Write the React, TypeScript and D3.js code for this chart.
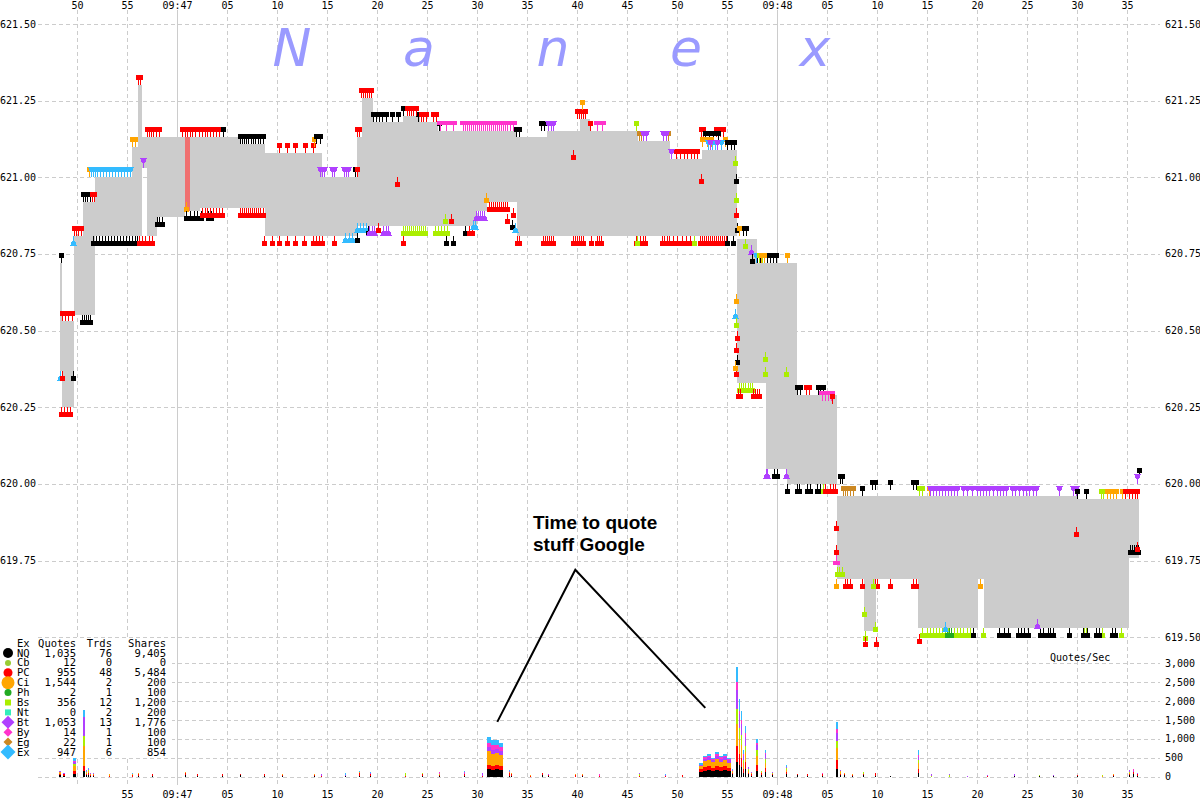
import React from 'react';
import * as d3 from 'd3';

const W = 1200;
const H = 800;

// ---------- axes ----------
const TIME_TICKS = [50, 55, 60, 65, 70, 75, 80, 85, 90, 95, 100, 105, 110, 115, 120, 125, 130, 135, 140, 145, 150, 155];
const PRICE_TICKS = [619.5, 619.75, 620.0, 620.25, 620.5, 620.75, 621.0, 621.25, 621.5];
const RATE_TICKS = [0, 500, 1000, 1500, 2000, 2500, 3000];

// ---------- NBBO band (seconds after 09:46:00) ----------
const NBBO_T = [48.3, 48.5, 49.7, 50.6, 51.8, 55.5, 56.1, 56.5, 57.0, 58.0, 60.8, 61.3, 62.3, 66.3, 68.8, 74.5, 78.0, 78.5, 79.6, 82.6, 84.3, 86.1, 90.0, 91.0, 94.0, 97.0, 100.3, 101.3, 106.1, 109.3, 112.5, 116.0, 118.0, 118.9, 121.0, 122.0, 126.0, 128.7, 129.9, 134.1, 140.1, 140.7, 150.0, 155.2];
const NBBO_ASK = [620.72, 620.53, 620.81, 620.92, 621.0, 621.1, 621.3, 621.13, 621.13, 621.13, 621.13, 621.13, 621.13, 621.11, 621.08, 621.0, 621.13, 621.26, 621.18, 621.2, 621.18, 621.15, 621.15, 621.15, 621.13, 621.15, 621.19, 621.15, 621.12, 621.06, 621.09, 620.8, 620.72, 620.72, 620.72, 620.29, 619.96, 619.96, 619.96, 619.96, 619.96, 619.96, 619.95, 619.95];
const NBBO_BID = [620.37, 620.25, 620.55, 620.55, 620.81, 620.81, 620.81, 621.03, 620.81, 620.87, 620.89, 620.89, 620.9, 620.9, 620.81, 620.81, 620.84, 620.84, 620.84, 620.84, 620.84, 620.84, 620.89, 620.92, 620.81, 620.81, 620.81, 620.81, 620.81, 620.81, 620.81, 620.33, 620.33, 620.05, 620.0, 620.0, 619.69, 619.52, 619.69, 619.53, 619.69, 619.53, 619.53, 619.76];
const NBBO_END = 156.2;
const LOCKED = [[60.8, 61.3, 621.13, 620.89]];

// ---------- legend table ----------
const EXCHANGES = ['NQ', 'Cb', 'PC', 'Ci', 'Ph', 'Bs', 'Nt', 'Bt', 'By', 'Eg', 'Ex'];
const QUOTES = ['1,035', '12', '955', '1,544', '2', '356', '0', '1,053', '14', '22', '947'];
const TRADES = ['76', '0', '48', '2', '1', '12', '2', '13', '1', '1', '6'];
const SHARES = ['9,405', '0', '5,484', '200', '100', '1,200', '200', '1,776', '100', '100', '854'];

const EX_COLORS: Record<string, string> = {
  NQ: '#000000', Cb: '#99cc33', PC: '#ff0000', Ci: '#ffa500', Ph: '#22aa22', Bs: '#aaee00',
  Nt: '#33eebb', Bt: '#b040ff', By: '#ff33cc', Eg: '#cc8822', Ex: '#33bbff',
};

// ---------- quotes (exchange, side, price, times) ----------
type Q = [string, string, number, number[]];
const QUOTE_MARKS: Q[] = [
  ['NQ', 'a', 620.72, [48.4]],
  ['Ex', 'b', 620.37, [48.3]],
  ['PC', 'b', 620.37, [48.5]],
  ['PC', 'b', 620.25, [48.4, 48.7, 49.0, 49.3]],
  ['PC', 'a', 620.53, [48.5, 48.8, 49.1, 49.5]],
  ['NQ', 'b', 620.37, [49.6]],
  ['NQ', 'b', 620.55, [50.5, 50.7, 50.9, 51.1, 51.3]],
  ['Ex', 'b', 620.81, [49.6]],
  ['PC', 'a', 620.81, [49.7, 49.9, 50.1, 50.4]],
  ['NQ', 'a', 620.92, [50.6, 50.8, 51.0, 51.3]],
  ['PC', 'a', 620.92, [51.5, 51.7]],
  ['Ci', 'a', 621.0, [51.2]],
  ['Ex', 'a', 621.0, [51.4, 51.6, 51.8, 52.0, 52.3, 52.6, 52.9, 53.2, 53.5, 53.8, 54.1, 54.4, 54.7, 55.0, 55.3]],
  ['NQ', 'b', 620.81, [51.6, 51.9, 52.2, 52.5, 52.8, 53.1, 53.4, 53.7, 54.0, 54.3, 54.6, 54.9, 55.2, 55.5, 55.8, 56.0]],
  ['Ci', 'a', 621.1, [55.5, 55.8]],
  ['PC', 'a', 621.3, [56.1, 56.3]],
  ['Bt', 'a', 621.03, [56.6]],
  ['PC', 'a', 621.13, [57.0, 57.2, 57.4, 57.6, 57.9, 58.2, 60.5, 60.8, 61.0, 61.3, 61.5, 61.8, 62.2, 62.5, 62.8, 63.0, 63.3, 63.6, 63.9, 64.2]],
  ['NQ', 'a', 621.13, [64.6]],
  ['PC', 'b', 620.81, [56.2, 56.5, 56.8, 57.2, 57.5]],
  ['NQ', 'b', 620.87, [58.0, 58.2, 58.5]],
  ['Ci', 'b', 620.92, [60.9]],
  ['NQ', 'b', 620.89, [60.9, 61.3, 61.7, 62.0, 62.4, 63.1, 63.4]],
  ['PC', 'b', 620.9, [62.5, 62.8, 63.0, 63.3, 63.6, 63.9, 64.2, 64.5]],
  ['NQ', 'a', 621.11, [66.3, 66.5, 66.7, 66.9, 67.1, 67.4, 67.6, 67.8, 68.1, 68.3, 68.6]],
  ['PC', 'b', 620.9, [66.3, 66.5, 66.7, 66.9, 67.1, 67.3, 67.5, 67.7, 67.9, 68.1, 68.3, 68.6]],
  ['PC', 'b', 620.81, [68.7, 69.5, 70.2, 71.0, 71.8, 72.7, 73.6, 73.9, 74.2, 74.5, 75.7]],
  ['PC', 'a', 621.08, [70.2, 71.0, 71.8, 72.8, 73.6]],
  ['Ci', 'a', 621.1, [73.7]],
  ['NQ', 'a', 621.11, [73.9, 74.3]],
  ['Bt', 'a', 621.0, [74.3, 74.5, 74.7, 75.5, 75.7, 76.7, 76.9, 77.1]],
  ['NQ', 'a', 621.0, [77.8]],
  ['PC', 'a', 621.0, [78.0]],
  ['Ex', 'b', 620.82, [76.8, 77.2, 77.5]],
  ['NQ', 'b', 620.82, [78.0]],
  ['PC', 'a', 621.13, [78.0, 78.2]],
  ['PC', 'a', 621.26, [78.4, 78.6, 78.8, 79.0, 79.2, 79.4]],
  ['NQ', 'a', 621.18, [79.6, 79.9, 80.2, 80.5, 80.9, 81.5, 82.1, 84.1]],
  ['NQ', 'a', 621.2, [82.6]],
  ['PC', 'a', 621.2, [83.0, 83.2, 83.4, 83.6, 83.9]],
  ['PC', 'a', 621.18, [84.4, 84.6, 84.9, 85.6, 85.9]],
  ['NQ', 'a', 621.15, [86.2]],
  ['By', 'a', 621.15, [86.3, 86.9, 87.6, 88.6, 88.8, 89.0, 89.2, 89.4, 89.6, 89.8, 90.0, 90.2, 90.4, 90.6, 90.8, 91.0, 91.2, 91.4, 91.6, 91.8, 92.0, 92.2, 92.4, 92.6, 92.8, 93.0, 93.3, 93.6]],
  ['NQ', 'a', 621.13, [93.9, 94.2]],
  ['NQ', 'a', 621.15, [96.4, 96.7]],
  ['Bt', 'a', 621.15, [97.1, 97.4, 97.6]],
  ['PC', 'a', 621.19, [100.0, 100.2, 100.4, 100.6, 100.8]],
  ['Ci', 'a', 621.22, [100.5]],
  ['PC', 'a', 621.15, [101.3]],
  ['By', 'a', 621.15, [102.0, 102.5]],
  ['Bs', 'a', 621.15, [105.9]],
  ['Eg', 'a', 621.12, [106.2, 106.4, 109.1]],
  ['Bt', 'a', 621.12, [106.6, 106.9, 108.6, 108.9]],
  ['PC', 'a', 621.06, [109.9, 110.3, 110.7, 111.0, 111.4, 111.7, 112.0]],
  ['Bt', 'a', 621.06, [109.4]],
  ['PC', 'a', 621.13, [112.4, 112.6, 113.9, 114.3, 114.6]],
  ['NQ', 'a', 621.12, [112.8, 113.2, 113.6, 114.1]],
  ['Ci', 'a', 621.1, [112.5, 113.0, 113.4, 114.8]],
  ['Ex', 'a', 621.09, [113.1, 113.5, 113.8, 114.4]],
  ['Bt', 'a', 621.09, [113.3, 114.0]],
  ['NQ', 'a', 621.09, [115.0, 115.4, 115.7]],
  ['PC', 'b', 621.0, [82.0]],
  ['PC', 'b', 621.09, [99.6]],
  ['PC', 'b', 621.01, [112.4]],
  ['Ex', 'b', 620.85, [78.0, 78.3, 78.6, 78.9]],
  ['NQ', 'b', 620.84, [79.1, 88.8]],
  ['Bt', 'b', 620.84, [79.2, 79.5, 79.7, 80.6, 80.9, 81.1]],
  ['PC', 'b', 620.85, [80.1]],
  ['PC', 'b', 620.81, [82.6]],
  ['Bs', 'b', 620.84, [82.6, 82.8, 83.0, 83.2, 83.4, 83.6, 83.8, 84.0, 84.2, 84.4, 84.6, 84.8, 85.8, 86.1, 86.4, 86.7, 87.0]],
  ['Bs', 'b', 620.88, [86.8]],
  ['NQ', 'b', 620.81, [86.9, 87.6]],
  ['PC', 'b', 620.88, [87.4]],
  ['PC', 'b', 620.84, [89.2, 89.5]],
  ['Ex', 'b', 620.86, [89.6, 89.8]],
  ['Bt', 'b', 620.89, [89.9, 90.1, 90.3, 90.5, 90.7]],
  ['Ci', 'b', 620.95, [90.9]],
  ['PC', 'b', 620.92, [91.2, 91.4, 91.6, 91.8, 92.0, 92.2, 92.4, 92.6, 92.8, 93.0]],
  ['PC', 'b', 620.88, [93.0]],
  ['PC', 'b', 620.9, [93.6]],
  ['NQ', 'b', 620.86, [93.5]],
  ['Ex', 'b', 620.85, [93.8]],
  ['PC', 'b', 620.81, [94.0, 94.2, 96.6, 96.8, 97.0, 97.2, 97.4, 97.6, 99.6, 99.8, 100.0, 100.2, 100.4, 100.6, 101.4, 102.0, 102.2, 102.4, 105.9, 106.3, 106.6, 106.8, 108.5, 108.7, 109.0, 109.2, 109.6, 110.0, 110.5, 110.9, 111.3, 112.3, 112.5, 112.7, 112.9, 113.1, 113.3, 113.5, 113.7, 113.9, 114.1, 114.3, 114.5, 114.7, 114.9]],
  ['Bs', 'b', 620.81, [106.0, 111.7]],
  ['NQ', 'b', 620.81, [115.0, 115.6]],
  // the drop
  ['Bs', 'b', 621.07, [115.8]],
  ['NQ', 'b', 621.01, [115.9]],
  ['Bs', 'b', 620.95, [115.9]],
  ['PC', 'b', 620.9, [115.9]],
  ['NQ', 'b', 620.85, [116.0]],
  ['Ci', 'b', 620.62, [115.9]],
  ['Ex', 'b', 620.57, [115.8]],
  ['Bs', 'b', 620.54, [115.9]],
  ['PC', 'b', 620.5, [116.0]],
  ['PC', 'b', 620.46, [115.9]],
  ['NQ', 'b', 620.42, [116.0]],
  ['PC', 'b', 620.38, [115.9]],
  ['Ci', 'b', 620.4, [115.8]],
  ['NQ', 'a', 620.81, [116.6, 116.9]],
  ['Ci', 'a', 620.81, [116.2]],
  ['Bs', 'b', 620.8, [116.8]],
  ['Bt', 'b', 620.78, [117.4]],
  ['NQ', 'b', 620.75, [117.5]],
  ['NQ', 'a', 620.72, [118.0, 118.3, 119.0, 119.3, 119.6, 119.9]],
  ['Ex', 'a', 620.72, [117.9]],
  ['Bs', 'a', 620.72, [118.2, 118.5]],
  ['Ci', 'a', 620.72, [118.4, 118.7, 121.0]],
  ['Bs', 'b', 620.33, [116.2, 116.4, 116.6, 116.8, 117.1, 117.3, 117.5]],
  ['PC', 'b', 620.31, [116.1, 116.3, 117.6, 117.8, 118.0, 118.2]],
  ['Bs', 'b', 620.43, [118.8]],
  ['Bs', 'b', 620.38, [118.8, 120.9]],
  ['NQ', 'a', 620.29, [122.0, 122.3, 124.1, 124.3, 124.6]],
  ['PC', 'a', 620.29, [122.9, 123.2]],
  ['By', 'a', 620.27, [124.5, 124.8, 125.1, 125.4]],
  ['PC', 'a', 620.26, [125.5]],
  ['Bt', 'b', 620.05, [118.9, 119.0, 120.9]],
  ['NQ', 'b', 620.05, [119.7, 120.0]],
  ['NQ', 'b', 620.0, [121.0, 122.0, 122.2, 123.0, 123.3, 124.0, 124.3, 124.6]],
  ['Bs', 'b', 620.0, [124.6]],
  ['PC', 'b', 620.0, [124.8, 125.3, 125.6, 125.8]],
  ['NQ', 'a', 620.0, [126.3, 126.5]],
  ['Eg', 'a', 619.96, [126.6, 126.8, 127.0, 127.3, 127.6]],
  ['NQ', 'a', 619.96, [128.5]],
  ['NQ', 'a', 619.98, [129.5, 129.8, 131.3, 133.6, 133.9]],
  ['Bs', 'a', 619.96, [134.2, 134.5]],
  ['Ci', 'a', 619.96, [135.2]],
  ['Bt', 'a', 619.96, [135.3, 135.6, 135.9, 136.2, 136.5, 136.8, 137.1, 137.4, 137.7, 138.0, 138.6, 139.0, 139.5, 140.0, 140.3, 140.6, 140.9, 141.2, 141.6, 142.0, 142.3, 142.6, 142.9, 143.5, 143.8, 144.2, 144.6, 144.9, 145.2, 145.6, 145.9, 148.2, 149.6, 149.9]],
  ['NQ', 'a', 619.95, [150.0, 150.9]],
  ['Bs', 'a', 619.95, [152.4, 152.6]],
  ['Ci', 'a', 619.95, [153.0, 153.3, 153.6, 153.9, 154.5]],
  ['PC', 'a', 619.95, [154.8, 155.2, 155.5, 155.8, 156.0]],
  ['NQ', 'a', 620.02, [156.2]],
  ['Bt', 'a', 620.0, [156.0]],
  ['PC', 'b', 619.69, [126.8, 127.0, 127.3, 128.5, 129.8, 130.0, 131.3, 133.6, 133.9]],
  ['Bs', 'b', 619.69, [129.6]],
  ['Ci', 'b', 619.69, [140.3, 125.9]],
  ['PC', 'b', 619.88, [125.9]],
  ['PC', 'b', 619.8, [125.9]],
  ['Bs', 'b', 619.73, [126.0, 126.2, 126.5]],
  ['By', 'b', 619.77, [125.9]],
  ['Bs', 'b', 619.6, [128.7]],
  ['Bs', 'b', 619.52, [128.8]],
  ['PC', 'b', 619.5, [128.8, 129.9]],
  ['Bs', 'b', 619.55, [129.8]],
  ['PC', 'b', 619.51, [134.2]],
  ['Bs', 'b', 619.53, [134.5, 135.0, 135.3, 135.6, 135.9, 136.2, 136.5, 136.8, 137.1, 137.4, 137.7, 138.0, 138.3, 138.6, 139.0, 139.3, 140.6, 150.7, 150.9, 152.5, 154.4]],
  ['Ph', 'b', 619.53, [137.0, 137.2, 137.4]],
  ['Ex', 'b', 619.55, [136.8]],
  ['NQ', 'b', 619.53, [139.6, 142.2, 142.7, 143.1, 144.1, 144.4, 144.7, 145.1, 146.3, 146.6, 147.1, 147.3, 147.6, 149.2, 150.6, 151.0, 151.9, 152.2, 153.5, 153.8]],
  ['Bt', 'b', 619.56, [146.0]],
  ['NQ', 'b', 619.8, [155.3, 155.5, 155.7, 155.9, 156.1]],
  ['PC', 'b', 619.81, [156.0]],
  ['PC', 'b', 619.86, [149.9]],
];

// ---------- quote rate (quotes/sec), stacked by exchange ----------
const RATE_ORDER = ['NQ', 'PC', 'Ci', 'Bs', 'Bt', 'By', 'Ex'];
// [tStart, tEnd, NQ, PC, Ci, Bs, Bt, By, Ex]
const RATE_BARS: number[][] = [
  [48.2, 48.4, 40, 40, 40, 0, 20, 0, 20],
  [48.6, 48.8, 30, 30, 20, 0, 20, 0, 0],
  [49.6, 49.9, 80, 80, 120, 50, 60, 20, 80],
  [50.6, 50.8, 150, 130, 530, 260, 500, 0, 200],
  [50.9, 51.0, 40, 30, 40, 20, 20, 0, 20],
  [51.1, 51.2, 50, 40, 60, 20, 30, 0, 30],
  [51.3, 51.4, 30, 20, 30, 0, 20, 0, 0],
  [51.6, 51.7, 20, 30, 20, 0, 20, 0, 20],
  [53.2, 53.3, 0, 30, 30, 0, 20, 0, 0],
  [55.5, 55.6, 0, 40, 40, 0, 0, 0, 30],
  [56.1, 56.2, 20, 60, 30, 0, 0, 0, 0],
  [57.5, 57.6, 20, 40, 0, 0, 0, 0, 0],
  [60.8, 60.9, 40, 60, 30, 0, 0, 0, 0],
  [62.0, 62.1, 30, 30, 0, 0, 20, 0, 0],
  [64.5, 64.6, 20, 40, 0, 0, 0, 0, 0],
  [66.3, 66.4, 40, 30, 0, 0, 0, 0, 0],
  [68.7, 68.8, 20, 50, 0, 0, 0, 0, 0],
  [70.5, 70.6, 20, 30, 20, 0, 0, 0, 0],
  [73.7, 73.8, 20, 30, 30, 0, 0, 0, 0],
  [74.4, 74.5, 0, 30, 0, 0, 40, 0, 0],
  [76.8, 76.9, 20, 0, 0, 0, 30, 0, 40],
  [78.2, 78.3, 30, 60, 30, 0, 0, 0, 30],
  [79.3, 79.4, 30, 30, 0, 0, 40, 0, 30],
  [82.8, 82.9, 0, 30, 0, 60, 0, 0, 0],
  [84.5, 84.6, 20, 40, 0, 40, 0, 0, 0],
  [86.2, 86.3, 20, 20, 0, 20, 0, 60, 0],
  [88.7, 88.8, 30, 30, 0, 0, 30, 30, 20],
  [90.5, 90.6, 0, 30, 0, 0, 60, 20, 0],
  [91.0, 91.4, 200, 120, 350, 0, 120, 100, 150],
  [91.4, 91.8, 190, 100, 320, 0, 100, 120, 130],
  [91.8, 92.2, 210, 110, 300, 0, 110, 110, 140],
  [92.2, 92.6, 180, 100, 300, 0, 100, 100, 100],
  [93.2, 93.3, 30, 60, 40, 0, 30, 0, 20],
  [93.4, 93.5, 20, 40, 30, 0, 20, 0, 0],
  [95.3, 95.4, 0, 20, 20, 0, 0, 0, 0],
  [96.5, 96.6, 50, 40, 0, 0, 0, 0, 0],
  [97.1, 97.2, 20, 20, 0, 0, 30, 0, 0],
  [99.8, 99.9, 0, 40, 30, 0, 0, 0, 0],
  [100.5, 100.6, 20, 30, 20, 0, 0, 0, 0],
  [102.2, 102.3, 0, 20, 0, 0, 0, 40, 0],
  [106.2, 106.3, 0, 30, 0, 30, 30, 0, 0],
  [108.8, 108.9, 0, 20, 0, 0, 30, 0, 20],
  [110.5, 110.6, 0, 40, 0, 0, 0, 0, 0],
  [112.2, 112.6, 120, 80, 80, 0, 40, 0, 30],
  [112.6, 113.0, 160, 100, 150, 0, 70, 30, 40],
  [113.0, 113.4, 170, 110, 160, 0, 80, 40, 40],
  [113.4, 113.8, 150, 90, 140, 0, 60, 30, 30],
  [113.8, 114.2, 180, 110, 170, 0, 90, 50, 50],
  [114.2, 114.6, 160, 100, 140, 0, 70, 40, 40],
  [114.6, 115.0, 170, 100, 160, 0, 80, 40, 50],
  [115.0, 115.4, 150, 90, 130, 0, 70, 30, 30],
  [115.5, 115.6, 60, 40, 40, 20, 20, 0, 20],
  [115.9, 116.1, 400, 400, 600, 400, 500, 200, 400],
  [116.2, 116.3, 300, 300, 400, 300, 350, 100, 300],
  [116.4, 116.5, 250, 250, 350, 250, 300, 100, 250],
  [116.6, 116.7, 100, 100, 150, 100, 100, 50, 100],
  [116.8, 116.9, 200, 200, 250, 150, 250, 100, 200],
  [117.1, 117.2, 60, 50, 50, 50, 40, 0, 0],
  [117.4, 117.5, 30, 30, 30, 20, 20, 0, 0],
  [117.9, 118.1, 150, 150, 250, 150, 150, 50, 100],
  [118.4, 118.5, 50, 40, 40, 30, 0, 0, 0],
  [118.8, 118.9, 120, 100, 150, 100, 120, 50, 60],
  [119.5, 119.6, 40, 30, 0, 30, 30, 0, 0],
  [120.9, 121.0, 60, 60, 60, 40, 40, 0, 40],
  [122.0, 122.1, 40, 40, 0, 0, 0, 0, 0],
  [123.0, 123.1, 30, 30, 0, 0, 0, 0, 0],
  [124.5, 124.6, 30, 30, 0, 0, 0, 50, 0],
  [125.9, 126.1, 200, 250, 300, 200, 200, 100, 200],
  [126.3, 126.4, 40, 40, 60, 20, 20, 0, 0],
  [126.7, 126.8, 40, 30, 40, 0, 0, 0, 0],
  [127.5, 127.6, 20, 20, 40, 0, 0, 0, 0],
  [128.6, 128.7, 40, 40, 0, 40, 0, 0, 0],
  [129.8, 129.9, 30, 60, 0, 20, 0, 0, 0],
  [131.3, 131.4, 20, 0, 0, 0, 0, 0, 0],
  [134.1, 134.2, 100, 100, 150, 80, 100, 50, 120],
  [135.4, 135.5, 0, 0, 0, 30, 40, 0, 0],
  [137.2, 137.3, 0, 0, 0, 40, 40, 0, 0],
  [139.0, 139.1, 0, 0, 0, 0, 30, 0, 0],
  [141.0, 141.1, 0, 20, 0, 0, 30, 0, 0],
  [143.7, 143.8, 30, 0, 0, 0, 30, 0, 0],
  [146.2, 146.3, 30, 0, 0, 20, 0, 0, 0],
  [147.6, 147.7, 20, 0, 0, 0, 30, 0, 0],
  [150.0, 150.1, 20, 30, 0, 0, 0, 0, 0],
  [152.5, 152.6, 0, 0, 20, 30, 0, 0, 0],
  [153.6, 153.7, 20, 20, 30, 0, 0, 0, 0],
  [155.2, 155.3, 40, 40, 30, 20, 40, 0, 0],
  [155.6, 155.7, 60, 70, 0, 0, 30, 40, 0],
  [156.0, 156.1, 30, 40, 0, 0, 20, 0, 0],
];

const WATERMARK = ['N', 'a', 'n', 'e', 'x'];
const ANNOTATION = ['Time to quote', 'stuff Google'];

// ---------- scales ----------
const PLOT_L = 38;
const PLOT_R = 1160;
const x = d3.scaleLinear().domain([46.07, 158.27]).range([PLOT_L, PLOT_R]);
const yP = d3.scaleLinear().domain([619.5, 621.5]).range([637.3, 24]);
const yR = d3.scaleLinear().domain([0, 3000]).range([776.7, 663.3]);

const GRID = '#cccccc';
const MONO = '"DejaVu Sans Mono", monospace';

function tickLabel(t: number): string {
  if (t % 60 === 0) return `09:${46 + t / 60}`;
  return String(t % 60).padStart(2, '0');
}

function Marker({ t, p, side, ex }: { t: number; p: number; side: string; ex: string }) {
  const cx = Math.round(x(t)) + 0.5;
  const y0 = Math.round(yP(p));
  const dir = side === 'a' ? -1 : 1;
  const c = EX_COLORS[ex];
  const near = y0 + dir * 5;
  const far = y0 + dir * 10;
  let head: React.ReactNode;
  if (ex === 'Bt' || ex === 'Ex') {
    head = <polygon points={`${cx - 1.5},${near} ${cx + 1.5},${near} ${cx + 3.5},${far} ${cx - 3.5},${far}`} fill={c} />;
  } else if (ex === 'By') {
    head = <rect x={cx - 3.5} y={dir < 0 ? far : far - 4} width={7} height={4} fill={c} />;
  } else {
    head = <rect x={cx - 2.5} y={Math.min(near, far)} width={5} height={5} fill={c} />;
  }
  return (
    <g>
      <line x1={cx} x2={cx} y1={y0} y2={far} stroke={c} strokeWidth={1} />
      {head}
    </g>
  );
}

function LegendSymbol({ ex, cy }: { ex: string; cy: number }) {
  const c = EX_COLORS[ex];
  const cx = 8;
  const circle = (r: number) => <circle cx={cx} cy={cy} r={r} fill={c} />;
  const square = (s: number) => <rect x={cx - s / 2} y={cy - s / 2} width={s} height={s} fill={c} />;
  const diamond = (r: number) => <polygon points={`${cx},${cy - r} ${cx + r},${cy} ${cx},${cy + r} ${cx - r},${cy}`} fill={c} />;
  switch (ex) {
    case 'NQ': return circle(5);
    case 'Cb': return circle(3);
    case 'PC': return circle(4.5);
    case 'Ci': return circle(6.5);
    case 'Ph': return circle(3.5);
    case 'Bs': return square(6);
    case 'Nt': return square(6);
    case 'Bt': return diamond(6.5);
    case 'By': return diamond(4.5);
    case 'Eg': return diamond(4.5);
    default: return diamond(7.5);
  }
}

export default function App() {
  const bandData = NBBO_T.map((t, i) => ({ t, a: NBBO_ASK[i], b: NBBO_BID[i] }));
  bandData.push({ t: NBBO_END, a: NBBO_ASK[NBBO_ASK.length - 1], b: NBBO_BID[NBBO_BID.length - 1] });
  const band = d3.area<{ t: number; a: number; b: number }>()
    .x((d) => x(d.t))
    .y0((d) => yP(d.b))
    .y1((d) => yP(d.a))
    .curve(d3.curveStepAfter)(bandData) || '';

  const rateRects: React.ReactNode[] = [];
  RATE_BARS.forEach((bar, i) => {
    let acc = 0;
    const x0 = Math.round(x(bar[0]));
    const x1 = Math.max(x0 + 1, Math.round(x(bar[1])));
    RATE_ORDER.forEach((ex, k) => {
      const v = bar[k + 2];
      if (v <= 0) return;
      const yTop = yR(acc + v);
      const yBot = yR(acc);
      acc += v;
      rateRects.push(
        <rect key={`r${i}-${k}`} x={x0} y={yTop} width={x1 - x0} height={yBot - yTop} fill={EX_COLORS[ex]} />
      );
    });
  });

  const markers: React.ReactNode[] = [];
  QUOTE_MARKS.forEach(([ex, side, p, ts], gi) => {
    ts.forEach((t, j) => markers.push(<Marker key={`m${gi}-${j}`} t={t} p={p} side={side} ex={ex} />));
  });

  const wmX = [292, 419, 553, 686, 815];
  const apex: [number, number] = [x(99.8), yP(619.72)];
  const leftEnd: [number, number] = [x(92.0), yR(1450)];
  const rightEnd: [number, number] = [x(112.8), yR(1820)];

  const rowY = (i: number) => 656.5 + i * 9.9;

  return (
    <svg width={W} height={H} style={{ display: 'block', position: 'absolute', left: 0, top: 0, background: '#fff' }}>
      <rect x={0} y={0} width={W} height={H} fill="#ffffff" />
      {/* vertical grid */}
      {TIME_TICKS.map((t) => {
        const xx = Math.round(x(t)) + 0.5;
        const solid = t % 60 === 0;
        return (
          <line key={`vg${t}`} x1={xx} x2={xx} y1={10} y2={785} stroke={GRID} strokeWidth={1}
            strokeDasharray={solid ? undefined : '4,3'} />
        );
      })}
      {/* price grid */}
      {PRICE_TICKS.map((p) => {
        const yy = Math.round(yP(p)) + 0.5;
        return <line key={`pg${p}`} x1={PLOT_L} x2={PLOT_R} y1={yy} y2={yy} stroke={GRID} strokeDasharray="4,3" />;
      })}
      {/* rate grid */}
      {RATE_TICKS.map((r) => {
        const yy = Math.round(yR(r)) + 0.5;
        return <line key={`rg${r}`} x1={PLOT_L} x2={PLOT_R} y1={yy} y2={yy} stroke={GRID} strokeDasharray="4,3" />;
      })}

      {/* watermark */}
      {WATERMARK.map((ch, i) => (
        <text key={`wm${i}`} x={wmX[i]} y={66} textAnchor="middle" fontFamily='"DejaVu Sans", sans-serif'
          fontStyle="italic" fontSize={52} fill="#9a9aff">{ch}</text>
      ))}

      {/* NBBO band */}
      <path d={band} fill="#cccccc" shapeRendering="crispEdges" />
      {LOCKED.map((l, i) => (
        <rect key={`lk${i}`} x={x(l[0])} y={yP(l[2])} width={x(l[1]) - x(l[0])} height={yP(l[3]) - yP(l[2])} fill="#f07070" shapeRendering="crispEdges" />
      ))}

      {/* quotes */}
      <g shapeRendering="crispEdges">{markers}</g>

      {/* legend */}
      <rect x={0} y={638} width={172} height={119} fill="#ffffff" />
      <g fontFamily={MONO} fontSize={10.5} fill="#000">
        <text x={17} y={646.5}>Ex</text>
        <text x={76} y={646.5} textAnchor="end">Quotes</text>
        <text x={112} y={646.5} textAnchor="end">Trds</text>
        <text x={166} y={646.5} textAnchor="end">Shares</text>
        {EXCHANGES.map((ex, i) => (
          <g key={`lg${ex}`}>
            <LegendSymbol ex={ex} cy={rowY(i) - 3.5} />
            <text x={17} y={rowY(i)}>{ex}</text>
            <text x={76} y={rowY(i)} textAnchor="end">{QUOTES[i]}</text>
            <text x={112} y={rowY(i)} textAnchor="end">{TRADES[i]}</text>
            <text x={166} y={rowY(i)} textAnchor="end">{SHARES[i]}</text>
          </g>
        ))}
      </g>

      {/* quote rate bars */}
      <g shapeRendering="crispEdges">{rateRects}</g>

      {/* axis labels */}
      <g fontFamily={MONO} fontSize={10} fill="#000">
        {TIME_TICKS.map((t) => (
          <text key={`tt${t}`} x={Math.round(x(t)) + 0.5} y={9} textAnchor="middle">{tickLabel(t)}</text>
        ))}
        {TIME_TICKS.filter((t) => t > 50).map((t) => (
          <text key={`bt${t}`} x={Math.round(x(t)) + 0.5} y={798} textAnchor="middle">{tickLabel(t)}</text>
        ))}
        {PRICE_TICKS.map((p) => (
          <g key={`pl${p}`}>
            {p > 619.5 && <text x={0} y={yP(p) + 3.5}>{p.toFixed(2)}</text>}
            <text x={1165} y={yP(p) + 3.5}>{p.toFixed(2)}</text>
          </g>
        ))}
        {RATE_TICKS.map((r) => (
          <text key={`rl${r}`} x={1165} y={yR(r) + 3.5}>{d3.format(',')(r)}</text>
        ))}
        <text x={1050} y={661}>Quotes/Sec</text>
      </g>

      {/* annotation */}
      <text x={533} y={529} fontFamily='"Liberation Sans", Arial, sans-serif' fontWeight="bold" fontSize={19} fill="#000">{ANNOTATION[0]}</text>
      <text x={533} y={551} fontFamily='"Liberation Sans", Arial, sans-serif' fontWeight="bold" fontSize={19} fill="#000">{ANNOTATION[1]}</text>
      <polyline points={`${leftEnd[0]},${leftEnd[1]} ${apex[0]},${apex[1]} ${rightEnd[0]},${rightEnd[1]}`} fill="none" stroke="#000" strokeWidth={2} />
    </svg>
  );
}
